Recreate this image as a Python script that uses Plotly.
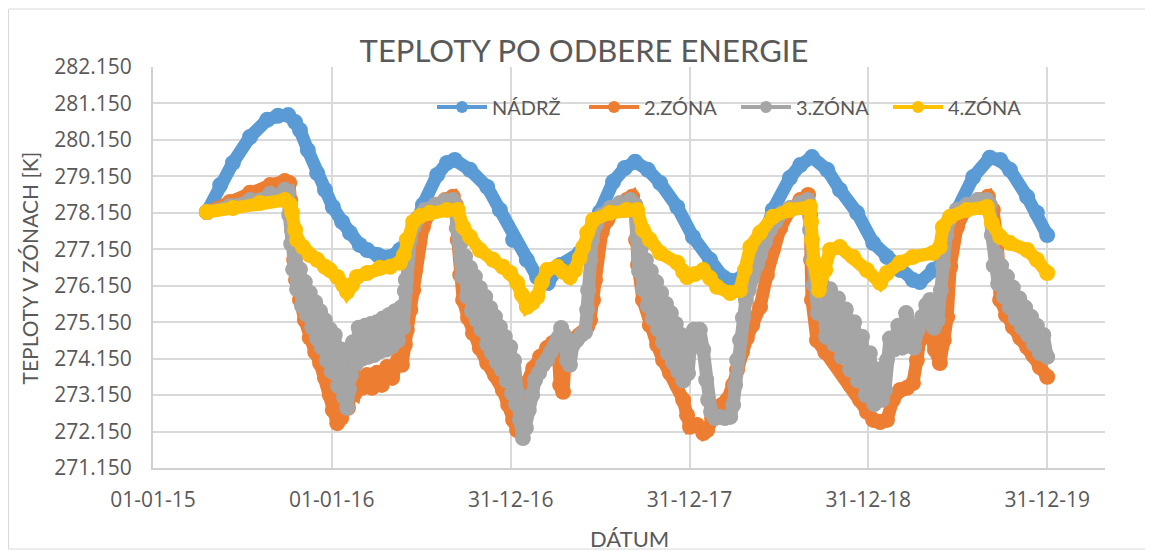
import pandas as pd
import plotly.graph_objects as go

# ---- data: (Excel serial date, temperature [K]) ----
nadrz = [(42115,278.17),(42142,278.91),(42168,279.52),(42203,280.23),(42238,280.70),(42260,280.81),
         (42281,280.83),(42295,280.64),(42305,280.42),(42321,279.87),(42340,279.24),(42356,278.78),
         (42372,278.31),(42391,277.90),(42407,277.60),(42427,277.27),(42442,277.13),(42464,276.99),
         (42489,276.94),(42509,277.13),(42536,277.60),(42556,278.37),(42585,279.19),(42605,279.52),
         (42621,279.60),(42652,279.33),(42687,278.86),(42713,278.23),(42740,277.41),(42768,276.86),
         (42789,276.39),(42811,276.23),(42836,276.72),(42876,277.05),(42903,277.54),(42917,278.17),
         (42944,279.00),(42968,279.38),(42989,279.55),(43015,279.33),(43040,278.97),(43075,278.31),
         (43107,277.49),(43142,276.86),(43168,276.39),(43193,276.28),(43217,276.53),(43244,277.13),
         (43270,278.23),(43305,279.11),(43326,279.46),(43350,279.68),(43381,279.33),(43407,278.78),
         (43442,278.15),(43475,277.32),(43503,276.94),(43530,276.58),(43556,276.31),(43570,276.25),
         (43597,276.58),(43617,276.80),(43632,277.41),(43646,278.23),(43679,279.13),(43713,279.66),
         (43734,279.60),(43754,279.33),(43789,278.59),(43809,278.15),(43830,277.54)]

zona2 = [(42115,278.17),(42162,278.45),(42203,278.70),(42244,278.91),(42274,279.02),(42283,278.97),
         (42285,278.50),(42289,277.68),(42293,276.86),(42297,276.31),(42305,275.76),(42315,275.21),
         (42325,274.72),(42336,274.33),(42346,274.03),(42356,273.62),(42366,273.15),(42372,272.74),
         (42381,272.38),(42389,272.52),(42397,273.02),(42403,272.80),(42409,273.29),(42417,273.21),
         (42423,273.62),(42432,273.35),(42442,273.70),(42452,273.35),(42462,273.76),(42472,273.43),
         (42483,273.92),(42493,273.62),(42505,274.11),(42513,273.98),(42519,274.53),(42523,274.94),
         (42530,275.49),(42536,276.03),(42540,276.58),(42546,277.27),(42556,277.76),(42570,278.17),
         (42585,278.37),(42601,278.50),(42617,278.59),(42623,278.37),(42627,277.41),(42632,276.45),
         (42638,275.76),(42648,275.27),(42658,274.85),(42672,274.44),(42687,274.03),(42703,273.70),
         (42719,273.29),(42730,272.88),(42740,272.47),(42748,272.19),(42756,272.33),(42764,273.02),
         (42768,273.48),(42781,273.89),(42795,274.20),(42809,274.44),(42821,274.58),(42832,274.39),
         (42836,273.43),(42842,273.24),(42848,274.53),(42862,274.66),(42876,274.80),(42891,275.02),
         (42897,275.21),(42903,275.76),(42907,276.31),(42911,276.99),(42921,277.63),(42932,277.95),
         (42952,278.31),(42972,278.50),(42983,278.59),(42989,278.37),(42991,277.41),(42995,276.72),
         (43005,275.76),(43019,275.07),(43034,274.53),(43046,274.11),(43060,273.76),(43075,273.43),
         (43087,273.02),(43095,272.60),(43101,272.28),(43115,272.33),(43128,272.11),(43136,272.19),
         (43146,272.52),(43156,272.74),(43166,272.88),(43177,273.02),(43189,273.43),(43197,273.84),
         (43207,274.33),(43217,274.72),(43228,275.07),(43244,275.57),(43258,276.45),(43270,277.13),
         (43285,277.73),(43305,278.23),(43326,278.50),(43342,278.64),(43346,278.09),(43348,276.86),
         (43350,275.76),(43360,274.66),(43377,274.33),(43393,274.11),(43413,273.76),(43428,273.43),
         (43448,273.02),(43462,272.69),(43475,272.47),(43489,272.41),(43503,272.47),(43515,273.02),
         (43530,273.29),(43544,273.35),(43556,273.48),(43564,274.11),(43570,274.66),(43581,274.80),
         (43591,274.85),(43601,274.39),(43611,274.03),(43619,274.66),(43626,275.29),(43632,276.67),
         (43638,277.41),(43646,277.76),(43666,278.31),(43689,278.50),(43709,278.59),(43719,278.23),
         (43728,277.41),(43734,275.76),(43746,275.35),(43760,275.02),(43775,274.72),(43789,274.47),
         (43801,274.25),(43815,273.92),(43830,273.65)]

zona3 = [(42115,278.17),(42162,278.34),(42203,278.50),(42244,278.67),(42274,278.78),(42281,278.72),
         (42283,278.09),(42287,277.30),(42291,276.60),(42295,276.90),(42299,276.05),(42305,276.60),
         (42309,275.60),(42315,276.25),(42319,275.35),(42325,275.95),(42330,275.00),(42336,275.70),
         (42340,274.70),(42346,275.45),(42350,274.45),(42356,275.20),(42360,274.10),(42366,274.95),
         (42370,273.80),(42376,274.80),(42383,273.40),(42389,274.40),(42395,273.10),(42401,272.80),
         (42405,273.30),(42409,273.70),(42413,274.60),(42419,274.00),(42425,275.00),(42432,274.15),
         (42438,275.05),(42444,274.20),(42450,275.10),(42456,274.25),(42462,275.15),(42468,274.35),
         (42474,275.25),(42481,274.40),(42487,275.35),(42493,274.50),(42499,275.45),(42505,274.65),
         (42511,275.55),(42515,275.00),(42519,276.00),(42521,276.31),(42525,276.99),(42530,277.41),
         (42536,277.73),(42546,278.01),(42560,278.23),(42581,278.37),(42601,278.48),(42617,278.50),
         (42621,278.37),(42625,277.73),(42632,277.30),(42636,276.40),(42642,276.95),(42646,275.85),
         (42652,276.64),(42656,275.45),(42662,276.40),(42666,275.20),(42672,276.09),(42676,274.95),
         (42683,275.85),(42687,274.55),(42693,275.54),(42697,274.30),(42703,275.30),(42707,274.05),
         (42713,275.02),(42717,273.85),(42723,274.75),(42727,273.55),(42734,274.47),(42738,273.20),
         (42742,274.10),(42746,272.90),(42750,273.20),(42754,272.47),(42760,271.97),(42766,272.25),
         (42772,272.74),(42779,273.15),(42785,273.57),(42793,273.76),(42801,273.98),(42809,274.11),
         (42817,274.33),(42826,274.53),(42832,274.72),(42838,274.99),(42844,274.80),(42850,274.11),
         (42856,273.98),(42862,274.53),(42870,274.66),(42879,274.80),(42887,274.88),(42891,275.49),
         (42893,276.03),(42897,276.86),(42901,277.41),(42909,277.82),(42921,278.09),(42938,278.28),
         (42958,278.42),(42979,278.50),
         (42989,278.37),(42993,277.46),(42997,276.55),(43001,277.20),(43005,276.05),(43011,276.85),
         (43015,275.60),(43021,276.55),(43025,275.25),(43032,276.25),(43036,274.95),(43042,275.95),
         (43046,274.60),(43052,275.65),(43056,274.30),(43062,275.40),(43066,274.05),(43072,275.10),
         (43077,273.80),(43083,274.80),(43087,273.55),(43093,274.40),(43097,273.75),(43103,274.66),
         (43109,274.94),(43115,274.53),(43121,274.94),(43128,274.39),(43134,273.57),(43138,273.02),
         (43144,272.69),(43152,272.52),(43162,272.55),(43172,272.52),(43183,272.55),(43189,272.88),
         (43193,273.43),(43197,274.11),(43203,274.66),(43209,275.27),(43215,275.76),(43221,276.03),
         (43228,276.36),(43238,276.72),(43244,276.99),(43254,277.35),(43264,277.68),(43275,277.90),
         (43289,278.15),(43305,278.28),(43326,278.42),(43340,278.50),
         (43342,278.45),(43346,277.68),(43350,276.86),(43354,276.17),(43362,275.40),(43370,276.20),
         (43379,274.75),(43387,276.05),(43395,274.55),(43403,275.80),(43411,274.20),(43419,275.50),
         (43428,273.85),(43436,275.15),(43444,273.55),(43452,274.75),(43460,273.15),(43468,274.30),
         (43477,272.90),(43485,273.85),(43493,273.02),(43499,273.29),(43503,274.11),(43509,274.70),
         (43517,274.40),(43526,275.05),(43534,274.45),(43542,275.40),(43550,275.07),(43558,274.45),
         (43566,274.94),(43575,275.30),(43583,275.62),(43591,275.76),(43599,275.00),(43607,275.21),
         (43613,276.03),(43617,276.72),(43624,277.54),(43632,278.01),(43646,278.23),(43666,278.37),
         (43689,278.50),(43707,278.50),
         (43713,278.37),(43717,277.54),(43721,276.70),(43726,277.00),(43730,276.20),(43736,276.70),
         (43742,275.85),(43748,276.40),(43754,275.55),(43760,276.10),(43766,275.25),(43773,275.80),
         (43779,275.00),(43785,275.55),(43791,274.80),(43797,275.30),(43803,274.55),(43809,275.05),
         (43815,274.30),(43822,274.80),(43830,274.20)]

zona4 = [(42115,278.17),(42168,278.28),(42223,278.42),(42274,278.50),(42285,278.37),(42289,278.15),
         (42295,277.68),(42299,277.41),(42311,277.21),(42325,276.99),(42340,276.86),(42356,276.67),
         (42366,276.58),(42381,276.39),(42393,276.17),(42401,275.98),(42411,276.17),(42421,276.39),
         (42442,276.50),(42468,276.64),(42489,276.67),(42509,276.78),(42517,276.99),(42523,277.41),
         (42536,277.90),(42550,278.06),(42570,278.15),(42605,278.23),(42627,278.23),(42638,277.76),
         (42652,277.49),(42672,277.13),(42699,276.86),(42719,276.67),(42734,276.50),(42748,276.23),
         (42758,275.90),(42768,275.57),(42779,275.68),(42789,275.84),(42799,276.25),(42809,276.58),
         (42830,276.67),(42842,276.53),(42856,276.39),(42866,276.58),(42876,276.91),(42883,277.21),
         (42891,277.60),(42903,277.95),(42938,278.15),(42972,278.23),(42993,278.23),(43005,277.68),
         (43019,277.41),(43040,277.05),(43075,276.78),(43087,276.53),(43095,276.39),(43111,276.47),
         (43128,276.58),(43142,276.36),(43156,276.12),(43183,275.95),(43203,276.03),(43213,276.58),
         (43224,277.21),(43244,277.60),(43270,278.04),(43305,278.23),(43346,278.31),(43348,277.90),
         (43350,277.41),(43354,276.80),(43364,276.03),(43377,276.58),(43387,277.13),(43407,277.21),
         (43434,276.94),(43462,276.58),(43489,276.23),(43503,276.50),(43530,276.78),(43556,276.94),
         (43597,277.05),(43611,277.21),(43617,277.76),(43632,278.04),(43666,278.23),(43707,278.31),
         (43717,277.87),(43734,277.49),(43754,277.32),(43789,277.13),(43809,276.86),(43830,276.50)]

series_names = ["NÁDRŽ", "2.ZÓNA", "3.ZÓNA", "4.ZÓNA"]
series_colors = ["#5B9BD5", "#ED7D31", "#A5A5A5", "#FFC000"]

x_tick_dates = ["2015-01-01", "2016-01-01", "2016-12-31", "2017-12-31", "2018-12-31", "2019-12-31"]
x_tick_labels = ["01-01-15", "01-01-16", "31-12-16", "31-12-17", "31-12-18", "31-12-19"]
y_ticks = [271.15, 272.15, 273.15, 274.15, 275.15, 276.15, 277.15, 278.15, 279.15, 280.15, 281.15, 282.15]
x_range = ["2015-01-01", "2020-04-27"]

TEXT_FONT = "Lato, 'Open Sans', sans-serif"
NUM_FONT = "'Open Sans', Lato, sans-serif"
TXT = "#595959"


def to_dates(serials):
    return pd.to_datetime(pd.Series(serials), unit="D", origin="1899-12-30")


fig = go.Figure()
for name, color, data in zip(series_names, series_colors, [nadrz, zona2, zona3, zona4]):
    xs = to_dates([p[0] for p in data])
    ys = [p[1] for p in data]
    fig.add_trace(go.Scatter(
        x=xs, y=ys, mode="lines+markers", name=name, legendgroup=name, showlegend=False,
        line=dict(color=color, width=13),
        marker=dict(color=color, size=16, line=dict(width=0)),
        hoverinfo="x+y+name",
    ))

# legend entries (thin line + marker, like the original legend keys)
for name, color in zip(series_names, series_colors):
    fig.add_trace(go.Scatter(
        x=[None], y=[None], mode="lines+markers", name=name, legendgroup=name,
        line=dict(color=color, width=4), marker=dict(color=color, size=12),
    ))

# figure is placed at page offset (8, 8); plot area on the page: x 153..1105, y 67..468
W, H = 1145, 543
L, R, T, B = 145, 48, 59, 83
PW, PH = W - L - R, H - T - B


def px_x(p):  # page x pixel -> paper fraction
    return (p - 8 - L) / PW


def px_y(p):  # page y pixel -> paper fraction
    return (H - B - (p - 8)) / PH


fig.update_layout(
    width=W, height=H,
    margin=dict(l=L, r=R, t=T, b=B),
    paper_bgcolor="white", plot_bgcolor="white",
    font=dict(family=TEXT_FONT, color=TXT, size=20),
    title=dict(text="TEPLOTY PO ODBERE ENERGIE", x=(584 - 8) / W, xref="container", xanchor="center",
               y=1 - (51 - 8) / H, yref="container", yanchor="middle",
               font=dict(family=TEXT_FONT, size=31, color=TXT)),
    legend=dict(orientation="h", x=px_x(432), xanchor="left", y=px_y(107), yanchor="middle",
                bgcolor="rgba(0,0,0,0)", font=dict(family=TEXT_FONT, size=20, color=TXT),
                itemwidth=50, entrywidth=87, entrywidthmode="pixels", itemclick=False),
    xaxis=dict(type="date", range=x_range, tickvals=x_tick_dates, ticktext=x_tick_labels,
               showgrid=True, gridcolor="#d9d9d9", gridwidth=1.6,
               showline=True, linecolor="#d0d0d0", linewidth=2, zeroline=False,
               ticks="", ticklabelstandoff=12,
               tickfont=dict(family=NUM_FONT, size=21, color=TXT)),
    yaxis=dict(range=[271.15, 282.15], tickvals=y_ticks, tickformat=".3f",
               showgrid=True, gridcolor="#d9d9d9", gridwidth=1.6,
               showline=True, linecolor="#d0d0d0", linewidth=2, zeroline=False,
               ticks="", ticklabelstandoff=15,
               tickfont=dict(family=NUM_FONT, size=21, color=TXT)),
    annotations=[
        dict(text="TEPLOTY V ZÓNACH [K]", x=px_x(29), y=0.5, xref="paper", yref="paper",
             textangle=-90, showarrow=False, xanchor="center", yanchor="middle",
             font=dict(family=TEXT_FONT, size=21, color=TXT)),
        dict(text="DÁTUM", x=0.5, y=px_y(538), xref="paper", yref="paper",
             showarrow=False, xanchor="center", yanchor="middle",
             font=dict(family=TEXT_FONT, size=22, color=TXT)),
    ],
    shapes=[dict(type="rect", xref="paper", yref="paper",
                 x0=px_x(8.5), x1=px_x(1147), y0=px_y(549), y1=px_y(9),
                 line=dict(color="#d9d9d9", width=1), fillcolor="rgba(0,0,0,0)", layer="below")],
    showlegend=True,
)

fig.write_html("out.html")
